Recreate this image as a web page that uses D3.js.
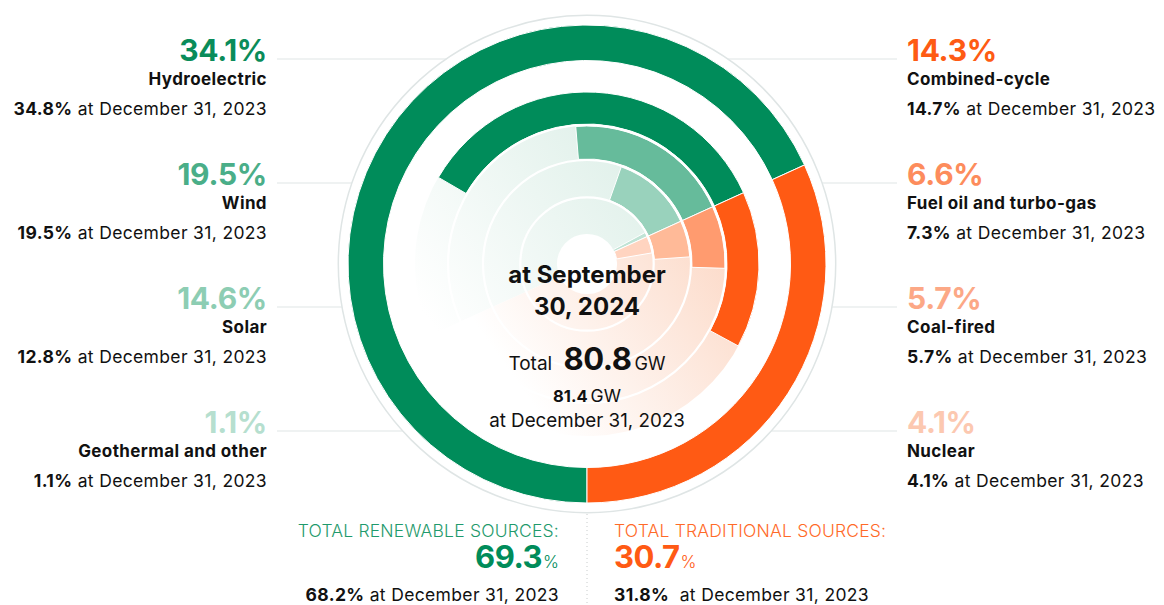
<!DOCTYPE html>
<html>
<head>
<meta charset="utf-8">
<script src="https://cdn.jsdelivr.net/npm/d3@7"></script>
<style>
  body { margin: 0; background: #fff; }
  svg { font-family: Inter, "Noto Sans", sans-serif; }
</style>
</head>
<body>
<div id="chart"></div>
<script>
var width = 1164;
var height = 605;

// shares in %, at September 30, 2024 and at December 31, 2023
var renewNames = ["Hydroelectric", "Wind", "Solar", "Geothermal and other"];
var renewShare = [34.1, 19.5, 14.6, 1.1];
var renewShare2023 = [34.8, 19.5, 12.8, 1.1];
var renewColors = ["#008c5a", "#66bb9b", "#99d2bc", "#bfe3d5"];
var renewLabelColors = ["#0a8c5a", "#4aae88", "#8dcdb3", "#b6dfcf"];

var tradNames = ["Combined-cycle", "Fuel oil and turbo-gas", "Coal-fired", "Nuclear"];
var tradShare = [14.3, 6.6, 5.7, 4.1];
var tradShare2023 = [14.7, 7.3, 5.7, 4.1];
var tradColors = ["#ff5a14", "#ff9b6f", "#ffba98", "#ffd4c0"];
var tradLabelColors = ["#fe5b14", "#fd8c5c", "#fca886", "#fcc8b0"];

var totalNames = ["TOTAL RENEWABLE SOURCES:", "TOTAL TRADITIONAL SOURCES:"];
var totalShare = [69.3, 30.7];
var totalShare2023 = [68.2, 31.8];
var totalColors = ["#008c5a", "#ff5a14"];
var totalGW = [80.8, 81.4];

var cx = 587, cy = 264;
var svg = d3.select("#chart").append("svg")
    .attr("width", width)
    .attr("height", height);

var angle = d3.scaleLinear().domain([0, 100]).range([0, 2 * Math.PI]);
// split between renewable and traditional (rings drawn with Dec 2023 shares)
var split = angle(totalShare2023[0]) - Math.PI;

var arc = d3.arc();
var g = svg.append("g").attr("transform", "translate(" + cx + "," + cy + ")");

// gradients for the faded track
var defs = svg.append("defs");
var gGreen = defs.append("linearGradient").attr("id", "trackGreen")
    .attr("gradientUnits", "userSpaceOnUse")
    .attr("x1", 90).attr("y1", -150).attr("x2", -170).attr("y2", 40);
gGreen.append("stop").attr("offset", 0).attr("stop-color", "#d9ede5");
gGreen.append("stop").attr("offset", 1).attr("stop-color", "#ffffff");
var gOrange = defs.append("linearGradient").attr("id", "trackOrange")
    .attr("gradientUnits", "userSpaceOnUse")
    .attr("x1", 170).attr("y1", 10).attr("x2", -40).attr("y2", 160);
gOrange.append("stop").attr("offset", 0).attr("stop-color", "#fcd9c7");
gOrange.append("stop").attr("offset", 1).attr("stop-color", "#ffffff");

// outer thin gray circle
g.append("circle").attr("r", 248.7)
    .attr("fill", "none").attr("stroke", "#dfe5e5").attr("stroke-width", 1.5);

// track
g.append("path").attr("d", arc({innerRadius: 30, outerRadius: 172, startAngle: split - Math.PI, endAngle: split}))
    .attr("fill", "url(#trackGreen)");
g.append("path").attr("d", arc({innerRadius: 30, outerRadius: 172, startAngle: split, endAngle: split + Math.PI}))
    .attr("fill", "url(#trackOrange)");

// outer totals ring
var outer = [
  {startAngle: Math.PI, endAngle: Math.PI + angle(totalShare2023[0]), color: totalColors[0]},
  {startAngle: split, endAngle: Math.PI, color: totalColors[1]}
];
g.selectAll("path.total").data(outer).enter().append("path")
    .attr("class", "total")
    .attr("d", function(d) { return arc({innerRadius: 203.5, outerRadius: 239, startAngle: d.startAngle, endAngle: d.endAngle}); })
    .attr("fill", function(d) { return d.color; })
    .attr("stroke", "#fff").attr("stroke-width", 1);

// inner rings, one per source pair
var rings = [[140, 172], [105, 138], [67.5, 103], [30, 66]];
var segs = [];
renewShare2023.forEach(function(v, i) {
  segs.push({r: rings[i], startAngle: split - angle(v), endAngle: split, color: renewColors[i]});
});
tradShare2023.forEach(function(v, i) {
  segs.push({r: rings[i], startAngle: split, endAngle: split + angle(v), color: tradColors[i]});
});
g.selectAll("path.seg").data(segs).enter().append("path")
    .attr("class", "seg")
    .attr("d", function(d) { return arc({innerRadius: d.r[0], outerRadius: d.r[1], startAngle: d.startAngle, endAngle: d.endAngle}); })
    .attr("fill", function(d) { return d.color; })
    .attr("stroke", "#fff").attr("stroke-width", 1);

// white separators between rings
[66.7, 104, 139].forEach(function(r) {
  g.append("circle").attr("r", r).attr("fill", "none").attr("stroke", "#fff").attr("stroke-width", 2.2);
});

// center text
var ct = svg.append("g").attr("text-anchor", "middle").attr("fill", "#111");
ct.append("text").attr("x", cx).attr("y", 283).attr("font-size", 24).attr("font-weight", 700)
    .text("at September");
ct.append("text").attr("x", cx).attr("y", 315).attr("font-size", 24).attr("font-weight", 700)
    .text("30, 2024");
var tot = ct.append("text").attr("x", cx).attr("y", 370);
tot.append("tspan").attr("font-size", 19).text("Total ");
tot.append("tspan").attr("font-size", 31).attr("font-weight", 700).attr("dx", 6).attr("letter-spacing", -0.5).text(totalGW[0]);
tot.append("tspan").attr("font-size", 18).attr("dx", 3).text("GW");
var t2 = ct.append("text").attr("x", cx).attr("y", 402);
t2.append("tspan").attr("font-size", 16.5).attr("font-weight", 700).text(totalGW[1]);
t2.append("tspan").attr("font-size", 17.5).attr("dx", 3).text("GW");
ct.append("text").attr("x", cx).attr("y", 427).attr("font-size", 18.8).text("at December 31, 2023");

// side labels
function fmt(v) { return d3.format(".1f")(v) + "%"; }

function sideLabels(names, share, share2023, colors, left) {
  var x = left ? 267 : 907;
  var anchor = left ? "end" : "start";
  names.forEach(function(name, i) {
    var y0 = 124 * i;
    var ly = 59 + y0;
    var dx = Math.sqrt(248.7 * 248.7 - (ly - cy) * (ly - cy));
    svg.append("line")
        .attr("x1", left ? 277 : cx + dx).attr("x2", left ? cx - dx : 897)
        .attr("y1", ly).attr("y2", ly)
        .attr("stroke", "#dfe5e5").attr("stroke-width", 1.2);
    svg.append("text").attr("x", x).attr("y", 61 + y0).attr("text-anchor", anchor)
        .attr("font-size", 30).attr("font-weight", 700).attr("fill", colors[i])
        .attr("letter-spacing", -0.3).text(fmt(share[i]));
    svg.append("text").attr("x", x).attr("y", 85 + y0).attr("text-anchor", anchor)
        .attr("font-size", 17).attr("font-weight", 700).attr("fill", "#111")
        .attr("letter-spacing", 0.4).text(name);
    var t = svg.append("text").attr("x", x).attr("y", 114.5 + y0).attr("text-anchor", anchor)
        .attr("font-size", 17.5).attr("letter-spacing", 0.35).attr("fill", "#111");
    t.append("tspan").attr("font-weight", 700).text(fmt(share2023[i]));
    t.append("tspan").text(" at December 31, 2023");
  });
}
sideLabels(renewNames, renewShare, renewShare2023, renewLabelColors, true);
sideLabels(tradNames, tradShare, tradShare2023, tradLabelColors, false);

// bottom totals
svg.append("line").attr("x1", cx).attr("x2", cx).attr("y1", 514).attr("y2", 605)
    .attr("stroke", "#c8cccc").attr("stroke-width", 1).attr("stroke-dasharray", "1,3");

var bottomLabelColors = ["#1f9a6c", "#ff6a28"];
[0, 1].forEach(function(i) {
  var left = i === 0;
  var x = left ? 559 : 614;
  var anchor = left ? "end" : "start";
  svg.append("text").attr("x", x).attr("y", 537).attr("text-anchor", anchor)
      .attr("font-size", 17.5).attr("font-weight", 300).attr("letter-spacing", 0.2)
      .attr("fill", bottomLabelColors[i])
      .text(totalNames[i]);
  var p = svg.append("text").attr("x", x).attr("y", 568).attr("text-anchor", anchor)
      .attr("fill", totalColors[i]);
  p.append("tspan").attr("font-size", 31).attr("font-weight", 700).attr("letter-spacing", -0.5)
      .text(d3.format(".1f")(totalShare[i]));
  p.append("tspan").attr("font-size", 17).attr("font-weight", 300).attr("dx", 1).text("%");
  var q = svg.append("text").attr("x", x).attr("y", 601).attr("text-anchor", anchor)
      .attr("font-size", 17.5).attr("letter-spacing", 0.35).attr("fill", "#111");
  q.append("tspan").attr("font-weight", 700).text(fmt(totalShare2023[i]));
  q.append("tspan").text(left ? " at December 31, 2023" : "\u00a0 at December 31, 2023");
});
</script>
</body>
</html>
